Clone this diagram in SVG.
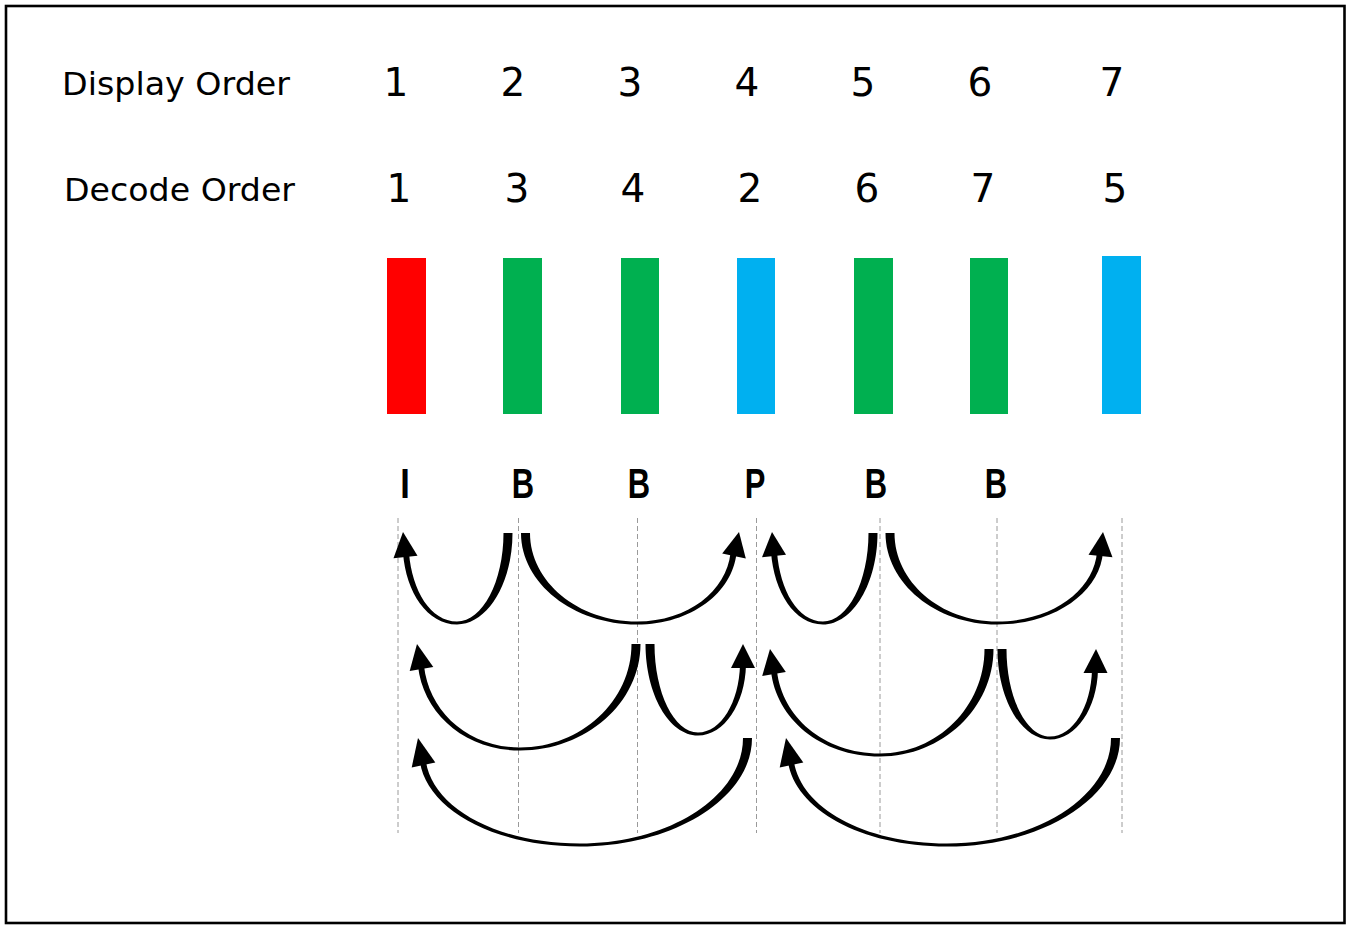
<svg xmlns="http://www.w3.org/2000/svg" width="1351" height="929" viewBox="0 0 1351 929">
<style>
.lbl{font-family:"DejaVu Sans","Liberation Sans",sans-serif;font-size:32px;fill:#000}
.num{font-family:"DejaVu Sans","Liberation Sans",sans-serif;font-size:39px;fill:#000;text-anchor:middle}
.ft{font-family:"Liberation Sans","DejaVu Sans",sans-serif;font-weight:bold;font-size:43px;fill:#000;text-anchor:middle}
.guide{stroke:#9a9a9a;stroke-width:1;stroke-dasharray:5 3;fill:none}
.arc{fill:#000;stroke:none}
.I{fill:#FF0000}.B{fill:#00B050}.P{fill:#00B0F0}
</style>
<rect x="0" y="0" width="1351" height="929" fill="#fff"/>
<rect x="6" y="6" width="1338.5" height="917" fill="#fff" stroke="#000" stroke-width="2.6"/>

<g id="headers">
<text class="lbl" x="62" y="95" textLength="228" lengthAdjust="spacingAndGlyphs">Display Order</text>
<text class="lbl" x="64" y="201" textLength="231" lengthAdjust="spacingAndGlyphs">Decode Order</text>
</g>

<g id="guides">
<line class="guide" x1="398" y1="518" x2="398" y2="833"/>
<line class="guide" x1="518.5" y1="518" x2="518.5" y2="833"/>
<line class="guide" x1="637.5" y1="518" x2="637.5" y2="833"/>
<line class="guide" x1="756.5" y1="518" x2="756.5" y2="833"/>
<line class="guide" x1="880" y1="518" x2="880" y2="833"/>
<line class="guide" x1="997" y1="518" x2="997" y2="833"/>
<line class="guide" x1="1122" y1="518" x2="1122" y2="833"/>
</g>

<g id="frame1">
<text class="num" x="396" y="96">1</text><text class="num" x="399" y="202">1</text>
<rect class="I" x="387" y="258" width="39" height="156"/>
<text class="ft" transform="translate(405,498) scale(0.8,1)">I</text>
</g>
<g id="frame2">
<text class="num" x="513" y="96">2</text><text class="num" x="517" y="202">3</text>
<rect class="B" x="503" y="258" width="39" height="156"/>
<text class="ft" transform="translate(523,498) scale(0.72,1)">B</text>
</g>
<g id="frame3">
<text class="num" x="630" y="96">3</text><text class="num" x="633" y="202">4</text>
<rect class="B" x="621" y="258" width="38" height="156"/>
<text class="ft" transform="translate(639,498) scale(0.72,1)">B</text>
</g>
<g id="frame4">
<text class="num" x="747" y="96">4</text><text class="num" x="750" y="202">2</text>
<rect class="P" x="737" y="258" width="38" height="156"/>
<text class="ft" transform="translate(755,498) scale(0.72,1)">P</text>
</g>
<g id="frame5">
<text class="num" x="863" y="96">5</text><text class="num" x="867" y="202">6</text>
<rect class="B" x="854" y="258" width="39" height="156"/>
<text class="ft" transform="translate(876,498) scale(0.72,1)">B</text>
</g>
<g id="frame6">
<text class="num" x="980" y="96">6</text><text class="num" x="983" y="202">7</text>
<rect class="B" x="970" y="258" width="38" height="156"/>
<text class="ft" transform="translate(996,498) scale(0.72,1)">B</text>
</g>
<g id="frame7">
<text class="num" x="1112" y="96">7</text><text class="num" x="1115" y="202">5</text>
<rect class="P" x="1102" y="256" width="39" height="158"/>
</g>

<g id="connectors">
<!-- A1 -->
<path class="arc" d="M 512.5,533 C 512.5,583.3 487.5,624.5 457,624.5 C 427.3,624.5 406,592.3 403,553 L 409,553 C 412,590.7 430.6,621.5 457,621.5 C 482.6,621.5 503.5,581.7 503.5,533 Z"/>
<polygon class="arc" points="403,532 393.5,558.2 417.5,555.8"/>
<!-- A2 -->
<path class="arc" d="M 521,533 C 521,583.3 573.2,624.5 637,624.5 C 691.7,624.5 732.5,592.3 736.5,553 L 730.5,553 C 726.5,590.7 688.4,621.5 637,621.5 C 578.1,621.5 530,581.7 530,533 Z"/>
<polygon class="arc" points="739,532 722.2,553.6 745.8,558.4"/>
<!-- A3 -->
<path class="arc" d="M 640.5,644 C 640.5,702.6 586.3,750.5 520,750.5 C 463.9,750.5 423,712.5 418,666 L 424,666 C 429,710.8 467.2,747.5 520,747.5 C 581.3,747.5 631.5,700.9 631.5,644 Z"/>
<polygon class="arc" points="417,644 409.7,671.1 433.3,666.9"/>
<!-- A4 -->
<path class="arc" d="M 645.5,644 C 645.5,694.3 669.1,735.5 698,735.5 C 724.4,735.5 745,703.8 746,665 L 740,665 C 739,702.1 721.1,732.5 698,732.5 C 674.1,732.5 654.5,692.7 654.5,644 Z"/>
<polygon class="arc" points="743,644 731,668 755,668"/>
<!-- A5 -->
<path class="arc" d="M 752,738 C 752,797.7 674.6,846.5 580,846.5 C 492,846.5 427,808.5 420,762 L 426,762 C 433,806.8 495.3,843.5 580,843.5 C 669.7,843.5 743,796 743,738 Z"/>
<polygon class="arc" points="418,738 411.7,767.4 435.3,762.6"/>
<!-- A6 -->
<path class="arc" d="M 877.5,533 C 877.5,583.3 853,624.5 823,624.5 C 794.4,624.5 774,591.9 771,552 L 777,552 C 780,590.2 797.7,621.5 823,621.5 C 848,621.5 868.5,581.7 868.5,533 Z"/>
<polygon class="arc" points="772,532 762,557.2 786,554.8"/>
<!-- A7 -->
<path class="arc" d="M 885.5,533 C 885.5,583.3 935.7,624.5 997,624.5 C 1055.3,624.5 1100,591.9 1103,552 L 1097,552 C 1094,590.2 1052,621.5 997,621.5 C 940.6,621.5 894.5,581.7 894.5,533 Z"/>
<polygon class="arc" points="1103,532 1088.5,554.8 1112.5,557.2"/>
<!-- A8 -->
<path class="arc" d="M 993.5,649 C 993.5,708.1 942.4,756.5 880,756.5 C 820,756.5 776,718 771,671 L 777,671 C 782,716.4 823.3,753.5 880,753.5 C 937.5,753.5 984.5,706.5 984.5,649 Z"/>
<polygon class="arc" points="770,649 762.2,675.9 785.8,672.1"/>
<!-- A9 -->
<path class="arc" d="M 997.5,649 C 997.5,698.8 1021.1,739.5 1050,739.5 C 1076.4,739.5 1097,708.2 1098,670 L 1092,670 C 1091,706.6 1073.1,736.5 1050,736.5 C 1026.1,736.5 1006.5,697.1 1006.5,649 Z"/>
<polygon class="arc" points="1096,649 1083.5,673 1107.5,673"/>
<!-- A10 -->
<path class="arc" d="M 1120,738 C 1120,797.7 1042.2,846.5 947,846.5 C 859.5,846.5 795,808.5 788,762 L 794,762 C 801,806.8 862.8,843.5 947,843.5 C 1037.2,843.5 1111,796 1111,738 Z"/>
<polygon class="arc" points="786,738 779.7,767.4 803.3,762.6"/>
</g>
</svg>
